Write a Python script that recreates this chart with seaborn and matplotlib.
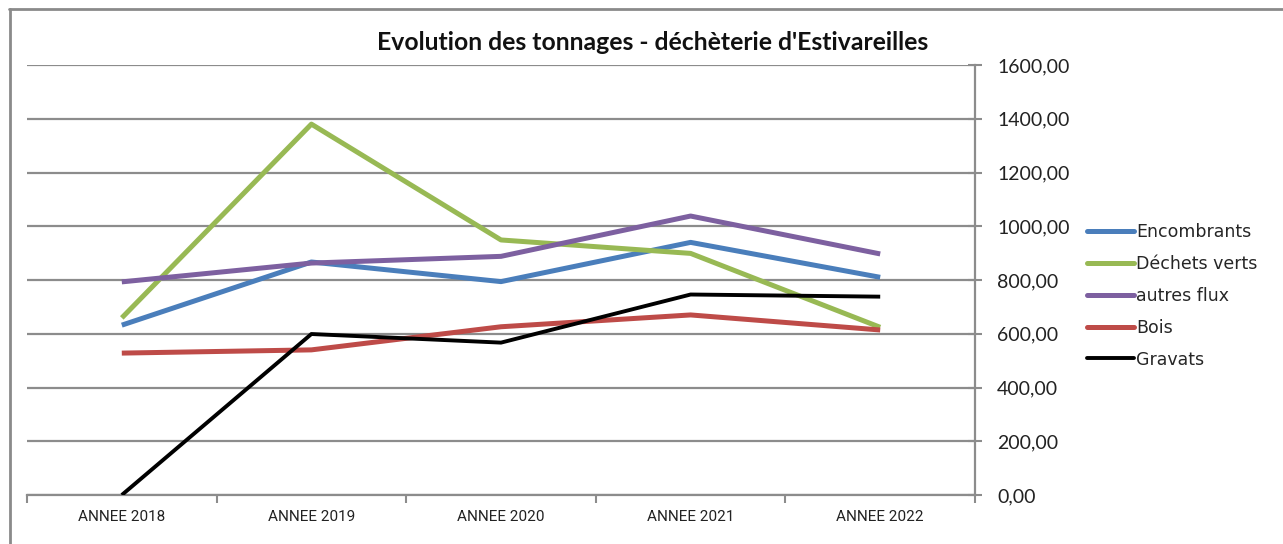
import pandas as pd
import matplotlib.pyplot as plt
import matplotlib.lines as mlines
from matplotlib.ticker import FuncFormatter, FixedLocator
import seaborn as sns

# Data (tonnes)
annees = ["ANNEE 2018", "ANNEE 2019", "ANNEE 2020", "ANNEE 2021", "ANNEE 2022"]
encombrants = [632, 867, 794, 940, 810]
dechets_verts = [659, 1380, 949, 899, 624]
autres_flux = [793, 863, 888, 1038, 897]
bois = [528, 540, 626, 670, 614]
gravats = [0, 599, 567, 746, 738]

series = ["Encombrants", "Déchets verts", "autres flux", "Bois", "Gravats"]
colors = ["#4A7EBB", "#98B954", "#7D60A0", "#BE4B48", "#000000"]
widths = [3.6, 3.6, 3.6, 3.6, 2.8]

df = pd.DataFrame({"annee": annees, "Encombrants": encombrants, "Déchets verts": dechets_verts,
                   "autres flux": autres_flux, "Bois": bois, "Gravats": gravats})
long_df = df.melt(id_vars="annee", var_name="flux", value_name="tonnes")

sns.set_theme(style="white")
plt.rcParams['font.family'] = ['Lato', 'DejaVu Sans']

fig = plt.figure(figsize=(12.83, 5.44), dpi=100)
ax = fig.add_axes([27 / 1283, 1 - 495 / 544, (975 - 27) / 1283, 430 / 544])

grid_color = "#8C8C8C"
for name, col, lw in zip(series, colors, widths):
    sub = long_df[long_df["flux"] == name]
    sns.lineplot(data=sub, x="annee", y="tonnes", color=col, linewidth=lw, ax=ax,
                 legend=False, zorder=3, solid_capstyle="butt")

ax.set_xlim(-0.5, 4.5)
ax.set_ylim(0, 1600)
ax.set_xlabel("")
ax.set_ylabel("")

# y axis on the right, french decimal format
ax.yaxis.tick_right()
ax.set_yticks(range(0, 1601, 200))
ax.yaxis.set_major_formatter(FuncFormatter(lambda v, p: f"{v:.2f}".replace(".", ",")))
ax.tick_params(axis="y", which="major", direction="inout", length=10, width=1.5, color=grid_color,
               labelsize=14, pad=11, labelcolor="#222222")

ax.set_xticks(range(5))
ax.set_xticklabels(annees, fontsize=11, family="Roboto", color="#222222")
ax.xaxis.set_minor_locator(FixedLocator([-0.5, 0.5, 1.5, 2.5, 3.5, 4.5]))
ax.tick_params(axis="x", which="major", length=0, pad=11)
ax.tick_params(axis="x", which="minor", bottom=True, direction="out", length=6, width=1.5, color=grid_color)

ax.grid(axis="y", color=grid_color, linewidth=1.6, zorder=1)
ax.grid(axis="x", visible=False)
for side in ["left", "top"]:
    ax.spines[side].set_visible(False)
for side in ["right", "bottom"]:
    ax.spines[side].set_color(grid_color)
    ax.spines[side].set_linewidth(1.6)

fig.text(653 / 1283, 1 - 42 / 544, "Evolution des tonnages - déchèterie d'Estivareilles",
         ha="center", va="center", fontsize=17.8, fontweight="bold", color="#111111")

handles = [mlines.Line2D([], [], color=c, linewidth=lw) for c, lw in zip(colors, widths)]
fig.legend(handles, series, loc="upper left", bbox_to_anchor=(1087 / 1283, 1 - 223 / 544),
           frameon=False, handlelength=2.7, handletextpad=0.15, labelspacing=0.8,
           borderpad=0, borderaxespad=0, prop={"family": "DejaVu Sans", "size": 12.5})

# chart border
border = "#8A8A8A"
fig.add_artist(mlines.Line2D([9 / 1283, 1], [1 - 9 / 544, 1 - 9 / 544], color=border, linewidth=2,
                             transform=fig.transFigure))
fig.add_artist(mlines.Line2D([10 / 1283, 10 / 1283], [0, 1 - 9 / 544], color=border, linewidth=2,
                             transform=fig.transFigure))

fig.savefig("out.png", dpi=100, facecolor="white")
